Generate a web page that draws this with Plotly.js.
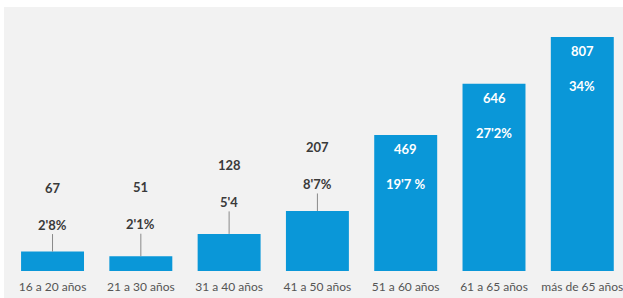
<!DOCTYPE html>
<html>
<head>
<meta charset="utf-8">
<script src="https://cdn.plot.ly/plotly-3.0.1.min.js"></script>
<style>html,body{margin:0;padding:0;background:#fff;}#chart{width:623px;height:298px;}</style>
</head>
<body>
<div id="chart"></div>
<script>
const categories = ["16 a 20 años","21 a 30 años","31 a 40 años","41 a 50 años","51 a 60 años","61 a 65 años","más de 65 años"];
const values = [67, 51, 128, 207, 469, 646, 807];
const percentLabels = ["2'8%","2'1%","5'4","8'7%","19'7 %","27'2%","34%"];

// label placement style (outside = above bar with leader line; inside = white text in bar)
const outside = [true, true, true, true, false, false, false];
const leaderOffset = [27, 32, 32, 27, 0, 0, 0];

const FONT = "Lato, 'Open Sans', sans-serif";
const annotations = [];
categories.forEach((c, i) => {
  if (outside[i]) {
    annotations.push({
      x: c, y: values[i], xref: 'x', yref: 'y',
      text: '<b>' + percentLabels[i] + '</b>',
      showarrow: true, arrowhead: 0, arrowwidth: 1, arrowcolor: '#8a8a8a',
      ax: 0, ay: -leaderOffset[i], standoff: 0,
      font: {family: FONT, size: 13, color: '#3a3a3a'}
    });
    annotations.push({
      x: c, y: values[i], xref: 'x', yref: 'y',
      text: '<b>' + values[i] + '</b>',
      showarrow: false, yanchor: 'middle',
      yshift: leaderOffset[i] + 37,
      font: {family: FONT, size: 13, color: '#3a3a3a'}
    });
  } else {
    annotations.push({
      x: c, y: values[i], xref: 'x', yref: 'y',
      text: '<b>' + values[i] + '</b>',
      showarrow: false, yanchor: 'middle', yshift: -14,
      font: {family: FONT, size: 13, color: '#ffffff'}
    });
    annotations.push({
      x: c, y: values[i], xref: 'x', yref: 'y',
      text: '<b>' + percentLabels[i] + '</b>',
      showarrow: false, yanchor: 'middle', yshift: -49,
      font: {family: FONT, size: 13, color: '#ffffff'}
    });
  }
});

const trace = {
  type: 'bar', x: categories, y: values,
  marker: {color: '#0a97d8', line: {width: 0}},
  hoverinfo: 'none', textposition: 'none'
};

const layout = {
  width: 623, height: 298,
  margin: {l: 0, r: 0, t: 0, b: 27},
  paper_bgcolor: '#ffffff', plot_bgcolor: 'rgba(0,0,0,0)',
  bargap: 0.287,
  showlegend: false,
  xaxis: {
    type: 'category', range: [-0.595, 6.461],
    showgrid: false, zeroline: false, showline: false, ticks: '',
    ticklabelstandoff: 7,
    tickfont: {family: FONT, size: 12, color: '#555555'},
    fixedrange: true
  },
  yaxis: {
    range: [0, 934.5], visible: false, fixedrange: true
  },
  shapes: [{
    type: 'rect', xref: 'paper', yref: 'paper', layer: 'below',
    x0: 4/623, x1: 1.01, y0: -0.12, y1: 264/271,
    fillcolor: '#f2f2f2', line: {width: 0}
  }],
  annotations: annotations
};

Plotly.newPlot('chart', [trace], layout, {displayModeBar: false, staticPlot: true});
</script>
</body>
</html>
